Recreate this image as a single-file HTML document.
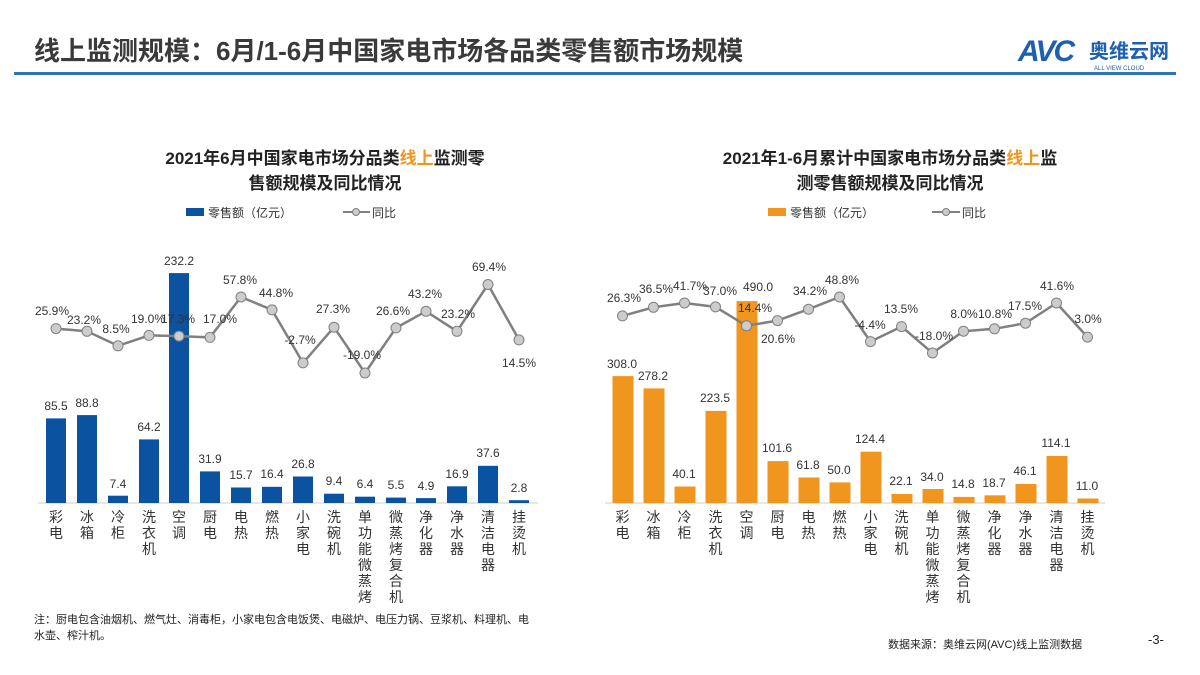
<!DOCTYPE html>
<html><head><meta charset="utf-8"><style>
html,body{margin:0;padding:0;background:#fff;}
svg{display:block;font-family:"Liberation Sans","Noto Sans CJK SC",sans-serif;}
</style></head><body>
<svg width="1200" height="675" viewBox="0 0 1200 675" xmlns="http://www.w3.org/2000/svg">
<text x="34" y="60" font-size="26" font-weight="bold" fill="#3a3a3a">线上监测规模：6月/1-6月中国家电市场各品类零售额市场规模</text>
<rect x="14" y="72" width="1162" height="3" fill="#2e75b6"/>
<text x="1018" y="61" font-size="30" font-weight="bold" font-style="italic" fill="#1f5fb0" letter-spacing="-2">AVC</text>
<text x="1089" y="58" font-size="20" font-weight="bold" fill="#1f5fb0">奥维云网</text>
<text x="1094" y="70" font-size="6" fill="#1f5fb0">ALL VIEW CLOUD</text>

<!-- Left chart -->
<g font-size="17" font-weight="bold" fill="#222" text-anchor="middle">
<text x="325" y="164">2021年6月中国家电市场分品类<tspan fill="#f0961e">线上</tspan>监测零</text>
<text x="325" y="189">售额规模及同比情况</text>
<text x="890" y="164">2021年1-6月累计中国家电市场分品类<tspan fill="#f0961e">线上</tspan>监</text>
<text x="890" y="189">测零售额规模及同比情况</text>
</g>
<g font-size="12" fill="#333">
<rect x="186" y="208" width="18" height="8" fill="#0b52a0"/><text x="208" y="217">零售额（亿元）</text>
<line x1="343" y1="212" x2="370" y2="212" stroke="#808080" stroke-width="2"/><circle cx="356" cy="212" r="3.5" fill="#ccc" stroke="#808080"/><text x="372" y="217">同比</text>
<rect x="768" y="208" width="18" height="8" fill="#f0961e"/><text x="790" y="217">零售额（亿元）</text>
<line x1="932" y1="212" x2="960" y2="212" stroke="#808080" stroke-width="2"/><circle cx="946" cy="212" r="3.5" fill="#ccc" stroke="#808080"/><text x="962" y="217">同比</text>
</g>

<line x1="38" y1="503" x2="538" y2="503" stroke="#ccc"/>
<line x1="605" y1="503" x2="1105" y2="503" stroke="#ccc"/>

<g fill="#0b52a0">
<rect x="46" y="418.4" width="20" height="84.6"/><rect x="77" y="415.1" width="20" height="87.9"/><rect x="108" y="495.7" width="20" height="7.3"/><rect x="139" y="439.4" width="20" height="63.6"/><rect x="169" y="273.1" width="20" height="229.9"/><rect x="200" y="471.4" width="20" height="31.6"/><rect x="231" y="487.5" width="20" height="15.5"/><rect x="262" y="486.8" width="20" height="16.2"/><rect x="293" y="476.5" width="20" height="26.5"/><rect x="324" y="493.7" width="20" height="9.3"/><rect x="355" y="496.7" width="20" height="6.3"/><rect x="386" y="497.6" width="20" height="5.4"/><rect x="416" y="498.1" width="20" height="4.9"/><rect x="447" y="486.3" width="20" height="16.7"/><rect x="478" y="465.8" width="20" height="37.2"/><rect x="509" y="500.2" width="20" height="2.8"/>
</g>
<g fill="#f0961e">
<rect x="612.5" y="376.1" width="21" height="126.9"/><rect x="643.5" y="388.4" width="21" height="114.6"/><rect x="674.5" y="486.5" width="21" height="16.5"/><rect x="705.5" y="410.9" width="21" height="92.1"/><rect x="736.5" y="301.1" width="21" height="201.9"/><rect x="767.5" y="461.1" width="21" height="41.9"/><rect x="798.5" y="477.5" width="21" height="25.5"/><rect x="829.5" y="482.4" width="21" height="20.6"/><rect x="860.5" y="451.7" width="21" height="51.3"/><rect x="891.5" y="493.9" width="21" height="9.1"/><rect x="922.5" y="489" width="21" height="14"/><rect x="953.5" y="496.9" width="21" height="6.1"/><rect x="984.5" y="495.3" width="21" height="7.7"/><rect x="1015.5" y="484" width="21" height="19"/><rect x="1046.5" y="456" width="21" height="47"/><rect x="1077.5" y="498.5" width="21" height="4.5"/>
</g>

<g font-size="12" fill="#333" text-anchor="middle">
<text x="56" y="410">85.5</text><text x="87" y="407">88.8</text><text x="118" y="488">7.4</text><text x="149" y="431">64.2</text><text x="179" y="265">232.2</text><text x="210" y="463">31.9</text><text x="241" y="479">15.7</text><text x="272" y="478">16.4</text><text x="303" y="468">26.8</text><text x="334" y="485">9.4</text><text x="365" y="488">6.4</text><text x="396" y="489">5.5</text><text x="426" y="490">4.9</text><text x="457" y="478">16.9</text><text x="488" y="457">37.6</text><text x="519" y="492">2.8</text>
<text x="622" y="368">308.0</text><text x="653" y="380">278.2</text><text x="684" y="478">40.1</text><text x="715" y="402">223.5</text><text x="758" y="291">490.0</text><text x="777" y="452">101.6</text><text x="808" y="469">61.8</text><text x="839" y="474">50.0</text><text x="870" y="443">124.4</text><text x="901" y="485">22.1</text><text x="932" y="481">34.0</text><text x="963" y="488">14.8</text><text x="994" y="487">18.7</text><text x="1025" y="475">46.1</text><text x="1056" y="447">114.1</text><text x="1087" y="490">11.0</text>
</g>

<polyline fill="none" stroke="#808080" stroke-width="2.5" stroke-linejoin="round" points="56,328.6 87,331.3 118,345.8 149,335.4 179,336.1 210,337.4 241,297 272,309.9 303,362.9 334,327.2 365,373 396,327.9 426,311.3 457,331.3 488,284.5 519,339.9"/>
<polyline fill="none" stroke="#808080" stroke-width="2.5" stroke-linejoin="round" points="622.5,315.9 653.5,307.3 684.5,303 715.5,306.9 746.5,325.8 777.5,320.6 808.5,309.2 839.5,297 870.5,341.6 901.5,326.6 932.5,353 963.5,331.2 994.5,328.8 1025.5,323.2 1056.5,303 1087.5,337.1"/>
<g fill="#ccc" stroke="#808080" stroke-width="1">
<circle cx="56" cy="328.6" r="5"/><circle cx="87" cy="331.3" r="5"/><circle cx="118" cy="345.8" r="5"/><circle cx="149" cy="335.4" r="5"/><circle cx="179" cy="336.1" r="5"/><circle cx="210" cy="337.4" r="5"/><circle cx="241" cy="297" r="5"/><circle cx="272" cy="309.9" r="5"/><circle cx="303" cy="362.9" r="5"/><circle cx="334" cy="327.2" r="5"/><circle cx="365" cy="373" r="5"/><circle cx="396" cy="327.9" r="5"/><circle cx="426" cy="311.3" r="5"/><circle cx="457" cy="331.3" r="5"/><circle cx="488" cy="284.5" r="5"/><circle cx="519" cy="339.9" r="5"/>
<circle cx="622.5" cy="315.9" r="5"/><circle cx="653.5" cy="307.3" r="5"/><circle cx="684.5" cy="303" r="5"/><circle cx="715.5" cy="306.9" r="5"/><circle cx="746.5" cy="325.8" r="5"/><circle cx="777.5" cy="320.6" r="5"/><circle cx="808.5" cy="309.2" r="5"/><circle cx="839.5" cy="297" r="5"/><circle cx="870.5" cy="341.6" r="5"/><circle cx="901.5" cy="326.6" r="5"/><circle cx="932.5" cy="353" r="5"/><circle cx="963.5" cy="331.2" r="5"/><circle cx="994.5" cy="328.8" r="5"/><circle cx="1025.5" cy="323.2" r="5"/><circle cx="1056.5" cy="303" r="5"/><circle cx="1087.5" cy="337.1" r="5"/>
</g>

<g font-size="12" fill="#333" text-anchor="middle">
<text x="52" y="315">25.9%</text><text x="84" y="324">23.2%</text><text x="116" y="333">8.5%</text><text x="148" y="323">19.0%</text><text x="178" y="323">17.3%</text><text x="220" y="323">17.0%</text><text x="240" y="284">57.8%</text><text x="276" y="297">44.8%</text><text x="300" y="344">-2.7%</text><text x="333" y="313">27.3%</text><text x="362" y="359">-19.0%</text><text x="393" y="315">26.6%</text><text x="425" y="298">43.2%</text><text x="458" y="318">23.2%</text><text x="489" y="271">69.4%</text><text x="519" y="367">14.5%</text>
<text x="624" y="302">26.3%</text><text x="656" y="293">36.5%</text><text x="690" y="290">41.7%</text><text x="720" y="295">37.0%</text><text x="755" y="312">14.4%</text><text x="778" y="343">20.6%</text><text x="810" y="295">34.2%</text><text x="842" y="284">48.8%</text><text x="870" y="329">-4.4%</text><text x="901" y="313">13.5%</text><text x="934" y="340">-18.0%</text><text x="964" y="318">8.0%</text><text x="995" y="318">10.8%</text><text x="1025" y="310">17.5%</text><text x="1057" y="290">41.6%</text><text x="1088" y="323">3.0%</text>
</g>

<g font-size="14" fill="#333" text-anchor="middle">
<text x="56" y="522">彩<tspan x="56" dy="16">电</tspan></text>
<text x="87" y="522">冰<tspan x="87" dy="16">箱</tspan></text>
<text x="118" y="522">冷<tspan x="118" dy="16">柜</tspan></text>
<text x="149" y="522">洗<tspan x="149" dy="16">衣</tspan><tspan x="149" dy="16">机</tspan></text>
<text x="179" y="522">空<tspan x="179" dy="16">调</tspan></text>
<text x="210" y="522">厨<tspan x="210" dy="16">电</tspan></text>
<text x="241" y="522">电<tspan x="241" dy="16">热</tspan></text>
<text x="272" y="522">燃<tspan x="272" dy="16">热</tspan></text>
<text x="303" y="522">小<tspan x="303" dy="16">家</tspan><tspan x="303" dy="16">电</tspan></text>
<text x="334" y="522">洗<tspan x="334" dy="16">碗</tspan><tspan x="334" dy="16">机</tspan></text>
<text x="365" y="522">单<tspan x="365" dy="16">功</tspan><tspan x="365" dy="16">能</tspan><tspan x="365" dy="16">微</tspan><tspan x="365" dy="16">蒸</tspan><tspan x="365" dy="16">烤</tspan></text>
<text x="396" y="522">微<tspan x="396" dy="16">蒸</tspan><tspan x="396" dy="16">烤</tspan><tspan x="396" dy="16">复</tspan><tspan x="396" dy="16">合</tspan><tspan x="396" dy="16">机</tspan></text>
<text x="426" y="522">净<tspan x="426" dy="16">化</tspan><tspan x="426" dy="16">器</tspan></text>
<text x="457" y="522">净<tspan x="457" dy="16">水</tspan><tspan x="457" dy="16">器</tspan></text>
<text x="488" y="522">清<tspan x="488" dy="16">洁</tspan><tspan x="488" dy="16">电</tspan><tspan x="488" dy="16">器</tspan></text>
<text x="519" y="522">挂<tspan x="519" dy="16">烫</tspan><tspan x="519" dy="16">机</tspan></text>

<text x="622.5" y="522">彩<tspan x="622.5" dy="16">电</tspan></text>
<text x="653.5" y="522">冰<tspan x="653.5" dy="16">箱</tspan></text>
<text x="684.5" y="522">冷<tspan x="684.5" dy="16">柜</tspan></text>
<text x="715.5" y="522">洗<tspan x="715.5" dy="16">衣</tspan><tspan x="715.5" dy="16">机</tspan></text>
<text x="746.5" y="522">空<tspan x="746.5" dy="16">调</tspan></text>
<text x="777.5" y="522">厨<tspan x="777.5" dy="16">电</tspan></text>
<text x="808.5" y="522">电<tspan x="808.5" dy="16">热</tspan></text>
<text x="839.5" y="522">燃<tspan x="839.5" dy="16">热</tspan></text>
<text x="870.5" y="522">小<tspan x="870.5" dy="16">家</tspan><tspan x="870.5" dy="16">电</tspan></text>
<text x="901.5" y="522">洗<tspan x="901.5" dy="16">碗</tspan><tspan x="901.5" dy="16">机</tspan></text>
<text x="932.5" y="522">单<tspan x="932.5" dy="16">功</tspan><tspan x="932.5" dy="16">能</tspan><tspan x="932.5" dy="16">微</tspan><tspan x="932.5" dy="16">蒸</tspan><tspan x="932.5" dy="16">烤</tspan></text>
<text x="963.5" y="522">微<tspan x="963.5" dy="16">蒸</tspan><tspan x="963.5" dy="16">烤</tspan><tspan x="963.5" dy="16">复</tspan><tspan x="963.5" dy="16">合</tspan><tspan x="963.5" dy="16">机</tspan></text>
<text x="994.5" y="522">净<tspan x="994.5" dy="16">化</tspan><tspan x="994.5" dy="16">器</tspan></text>
<text x="1025.5" y="522">净<tspan x="1025.5" dy="16">水</tspan><tspan x="1025.5" dy="16">器</tspan></text>
<text x="1056.5" y="522">清<tspan x="1056.5" dy="16">洁</tspan><tspan x="1056.5" dy="16">电</tspan><tspan x="1056.5" dy="16">器</tspan></text>
<text x="1087.5" y="522">挂<tspan x="1087.5" dy="16">烫</tspan><tspan x="1087.5" dy="16">机</tspan></text>
</g>

<g font-size="11" fill="#222">
<text x="34" y="623">注：厨电包含油烟机、燃气灶、消毒柜，小家电包含电饭煲、电磁炉、电压力锅、豆浆机、料理机、电</text>
<text x="34" y="639">水壶、榨汁机。</text>
<text x="888" y="648">数据来源：奥维云网(AVC)线上监测数据</text>
<text x="1148" y="644" font-size="13">-3-</text>
</g>
</svg>
</body></html>
